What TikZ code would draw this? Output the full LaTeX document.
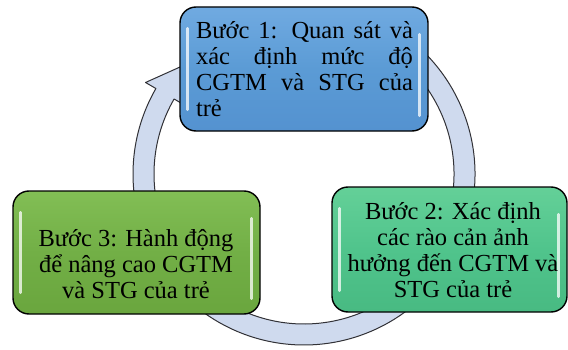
\documentclass[tikz,border=0pt]{standalone}
\usepackage{fontspec}
\setmainfont{Liberation Serif}
\definecolor{ringfill}{RGB}{207,218,238}
\definecolor{ringline}{RGB}{50,50,55}
\definecolor{blueT}{RGB}{112,170,225}
\definecolor{blueM}{RGB}{91,155,213}
\definecolor{blueB}{RGB}{84,146,208}
\definecolor{greenT}{RGB}{130,190,85}
\definecolor{greenM}{RGB}{114,175,70}
\definecolor{greenB}{RGB}{106,166,62}
\definecolor{tealT}{RGB}{100,208,152}
\definecolor{tealM}{RGB}{80,196,140}
\definecolor{tealB}{RGB}{72,186,130}
\tikzset{
  stepbox/.style={draw=black, line width=1.4pt, rounded corners=16pt, inner sep=0pt},
  steptext/.style={inner sep=0pt, font=\fontsize{24.5}{26}\selectfont, align=center},
  ringseg/.style={fill=ringfill, draw=ringline, line width=1pt, line join=round},
  gloss/.style={draw=white, line width=2.6pt, line cap=round, opacity=0.75}
}
\begin{document}
\begin{tikzpicture}[x=1pt,y=1pt]
\useasboundingbox (0,0) rectangle (568,349);
% ring segments
\begin{scope}[shift={(304,175)}]
  \coordinate (ctr) at (0,0);
  \draw[ringseg] (70:171) arc[start angle=70, end angle=-15, radius=171]
     -- (-15:150) arc[start angle=-15, end angle=70, radius=150] -- cycle;
  \draw[ringseg] (-35:171) arc[start angle=-35, end angle=-140, radius=171]
     -- (-140:150) arc[start angle=-140, end angle=-35, radius=150] -- cycle;
  \draw[ringseg] (200:171) arc[start angle=200, end angle=150, radius=171]
     -- (150:183) -- (137:161) -- (150:139)
     -- (150:150) arc[start angle=150, end angle=200, radius=150] -- cycle;
\end{scope}
% boxes
\node[stepbox, minimum width=248pt, minimum height=124pt,
  top color=blueT, bottom color=blueB, middle color=blueM] (b1) at (304,280) {};
\node[stepbox, minimum width=235pt, minimum height=125pt,
  top color=tealT, bottom color=tealB, middle color=tealM] (b2) at (449.5,99.5) {};
\node[stepbox, minimum width=247pt, minimum height=123pt,
  top color=greenT, bottom color=greenB, middle color=greenM] (b3) at (136.5,96.5) {};
% gloss highlights
\foreach \b in {b1,b2,b3}{
  \draw[gloss] ([xshift=8pt,yshift=-22pt]\b.north west) -- ([xshift=8pt,yshift=22pt]\b.south west);
  \draw[gloss] ([xshift=-9pt,yshift=-28pt]\b.north east) -- ([xshift=-9pt,yshift=16pt]\b.south east);
}
% texts
\node[steptext, align=left] (t1) at (304.5,280) {%
  \makebox[217pt][s]{Bước 1: Quan sát và}\\
  \makebox[217pt][s]{xác định mức độ}\\
  \makebox[217pt][s]{CGTM và STG của}\\
  \makebox[217pt][l]{trẻ}};
\node[steptext] (t2) at (453,99) {Bước 2: Xác định\\các rào cản ảnh\\hưởng đến CGTM và\\STG của trẻ};
\node[steptext] (t3) at (136,85) {Bước 3: Hành động\\để nâng cao CGTM\\và STG của trẻ};
\end{tikzpicture}
\end{document}
